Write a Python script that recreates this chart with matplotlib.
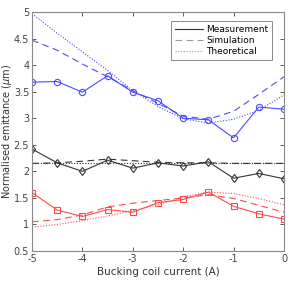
import matplotlib
matplotlib.use("Agg")
import matplotlib.pyplot as plt
from matplotlib.lines import Line2D

current = [-5, -4.5, -4, -3.5, -3, -2.5, -2, -1.5, -1, -0.5, 0]

blue_meas = [3.68, 3.69, 3.49, 3.80, 3.49, 3.33, 3.00, 2.97, 2.63, 3.21, 3.17]
blue_sim = [4.47, 4.28, 4.02, 3.78, 3.52, 3.28, 3.04, 2.98, 3.13, 3.45, 3.78]
blue_theo = [4.97, 4.60, 4.25, 3.90, 3.52, 3.22, 2.99, 2.91, 2.98, 3.15, 3.44]

black_meas = [2.42, 2.16, 2.00, 2.21, 2.06, 2.16, 2.10, 2.18, 1.87, 1.96, 1.86]
black_sim = [2.15, 2.16, 2.19, 2.23, 2.20, 2.17, 2.16, 2.16, 2.15, 2.15, 2.15]
black_theo = [2.15, 2.15, 2.15, 2.15, 2.15, 2.15, 2.15, 2.15, 2.15, 2.15, 2.15]

red_meas = [1.60, 1.27, 1.15, 1.28, 1.23, 1.41, 1.47, 1.61, 1.34, 1.20, 1.10]
red_sim = [1.05, 1.09, 1.18, 1.33, 1.40, 1.45, 1.50, 1.56, 1.49, 1.36, 1.23]
red_theo = [0.95, 1.00, 1.07, 1.16, 1.26, 1.37, 1.52, 1.61, 1.58, 1.49, 1.37]

xticks = [-5, -4, -3, -2, -1, 0]
yticks = [0.5, 1, 1.5, 2, 2.5, 3, 3.5, 4, 4.5, 5]

BLUE = "#4a4aff"
RED = "#ff4a4a"
BLACK = "#333333"

fig = plt.figure(figsize=(2.96, 2.90), dpi=100)
ax = fig.add_axes([32/296, 1-251/290, (284-32)/296, (251-12)/290])

lw = 0.8
for meas, sim, theo, col, mk in [
    (blue_meas, blue_sim, blue_theo, BLUE, "o"),
    (black_meas, black_sim, black_theo, BLACK, "d"),
    (red_meas, red_sim, red_theo, RED, "s"),
]:
    ax.plot(current, meas, "-", color=col, lw=lw, marker=mk, ms=4.5 if mk != "s" else 4,
            mfc="none", mec=col, mew=0.8)
    ax.plot(current, sim, color=col, lw=lw, ls=(0, (6, 4)))
    ax.plot(current, theo, color=col, lw=lw, ls=(0, (1, 1.5)))

ax.set_xlim(-5, 0)
ax.set_ylim(0.5, 5)
ax.set_xticks(xticks)
ax.set_xticklabels([f"{t:g}" for t in xticks])
ax.set_yticks(yticks)
ax.set_yticklabels([f"{t:g}" for t in yticks])
ax.tick_params(direction="in", length=3, width=0.6, labelsize=7, colors="#444444",
               top=True, right=True, pad=2)
for s in ax.spines.values():
    s.set_color("#888888")
    s.set_linewidth(0.8)

ax.set_xlabel("Bucking coil current (A)", fontsize=7.5, color="#333333", labelpad=2)
ax.set_ylabel("Normalised emittance ($\\mu$m)", fontsize=7, color="#333333", labelpad=0)

handles = [
    Line2D([], [], color=BLACK, lw=lw, ls="-"),
    Line2D([], [], color="#999999", lw=lw, ls=(0, (6, 4))),
    Line2D([], [], color="#999999", lw=lw, ls=(0, (1, 1.5))),
]
leg = ax.legend(handles, ["Measurement", "Simulation", "Theoretical"], loc="upper right",
                fontsize=6.5, frameon=True, fancybox=False, handlelength=3.2,
                borderpad=0.4, labelspacing=0.25, handletextpad=0.3,
                bbox_to_anchor=(0.97, 0.98))
leg.get_frame().set_edgecolor("#555555")
leg.get_frame().set_linewidth(0.6)

fig.savefig("out.png", dpi=100)
